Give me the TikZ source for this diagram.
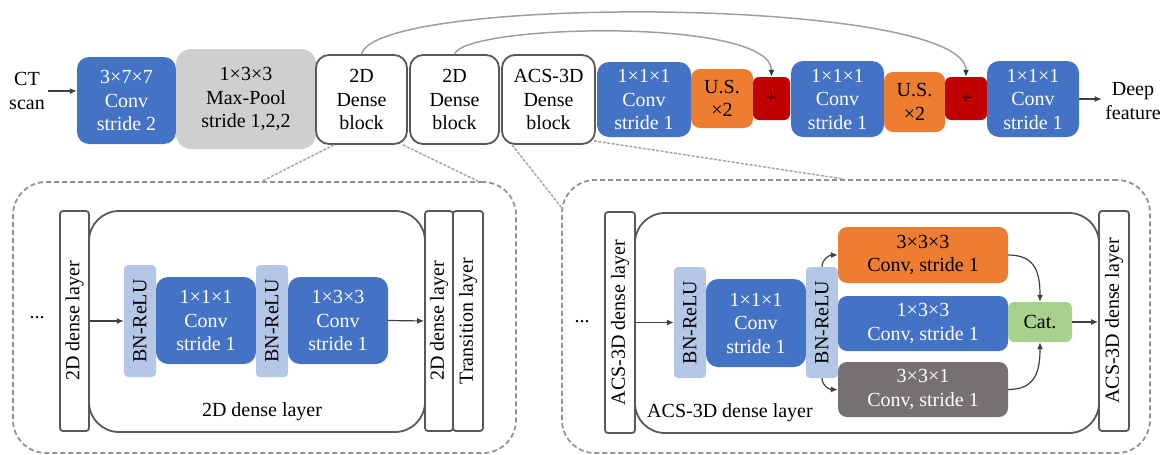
\documentclass[tikz,border=0pt]{standalone}
\usepackage{fontspec}
\setmainfont{Liberation Serif}
\usetikzlibrary{arrows.meta}

\definecolor{convblue}{HTML}{4472C4}
\definecolor{poolgray}{HTML}{D0CECE}
\definecolor{usorange}{HTML}{ED7D31}
\definecolor{addred}{HTML}{C00000}
\definecolor{bnblue}{HTML}{B4C7E7}
\definecolor{kgray}{HTML}{767171}
\definecolor{catgreen}{HTML}{A9D18E}
\definecolor{edgegray}{HTML}{595959}

\newcommand{\txt}{\fontsize{20}{23.5}\selectfont}

\tikzset{
  blk/.style 2 args={minimum width=#1pt,minimum height=#2pt,inner sep=0pt,align=center,font=\txt},
  conv/.style={fill=convblue,text=white,rounded corners=12pt},
  dblock/.style={draw=edgegray,line width=1.8pt,fill=white,rounded corners=13pt},
  us/.style={fill=usorange,rounded corners=9pt},
  add/.style={fill=addred,rounded corners=6pt},
  bn/.style={fill=bnblue,rounded corners=4pt},
  lay/.style={draw=edgegray,line width=1.8pt,fill=white,rounded corners=3pt},
  inbox/.style={draw=edgegray,line width=1.8pt,rounded corners=30pt},
  panel/.style={draw=gray!85,line width=1.8pt,dash pattern=on 5pt off 3pt,rounded corners=33pt},
  zoomln/.style={draw=gray!70,line width=1.5pt,dash pattern=on 3pt off 1.5pt},
  arr/.style={draw=black!75,line width=1.2pt,-{Latex[length=7pt,width=6pt]}},
  skip/.style={draw=gray!75,line width=1.5pt,-{Latex[length=7pt,width=6pt,color=black!80]}}
}

\begin{document}
\begin{tikzpicture}[x=1pt,y=-1pt]
  \useasboundingbox (0,0) rectangle (1167,455);

  % encoder / decoder row
  \node[align=center,font=\txt] (ct) at (27,91) {CT\\scan};
  \node[conv,blk={99}{87}] (conv0) at (126.5,100.5) {3×7×7\\Conv\\stride 2};
  \node[blk={140}{100},fill=poolgray,rounded corners=15pt] (pool) at (246,99) {1×3×3\\Max-Pool\\stride 1,2,2};
  \node[dblock,blk={91}{89}] (dbA) at (361.5,99.5) {2D\\Dense\\block};
  \node[dblock,blk={89}{89}] (dbB) at (454.5,99.5) {2D\\Dense\\block};
  \node[dblock,blk={93}{89}] (acs) at (548.5,99.5) {ACS-3D\\Dense\\block};
  \node[conv,blk={94}{75}] (c1) at (644,99.5) {1×1×1\\Conv\\stride 1};
  \node[us,blk={62}{59}] (us1) at (722,98.5) {U.S.\\×2};
  \node[add,blk={37}{43}] (add1) at (771.5,98.5) {+};
  \node[conv,blk={93}{76}] (c2) at (837.5,99) {1×1×1\\Conv\\stride 1};
  \node[us,blk={61}{60}] (us2) at (914.5,102) {U.S.\\×2};
  \node[add,blk={42}{43}] (add2) at (966,98.5) {+};
  \node[conv,blk={92}{76}] (c3) at (1033,99) {1×1×1\\Conv\\stride 1};
  \node[align=center,font=\txt] (deep) at (1133,101) {Deep\\feature};

  \draw[arr] (ct.east) -- (ct.east -| conv0.west);
  \draw[arr] (c3.east) -- (c3.east -| deep.west);
  \draw[skip] (dbA.north) .. controls +(15,-60) and +(0,-80) .. (add2.north);
  \draw[skip] (dbB.north) .. controls +(10,-30) and +(0,-60) .. (add1.north);

  % expanded blocks
  \node[panel,blk={503}{271}] (panelL) at (264.5,317.5) {};
  \node[panel,blk={588}{273}] (panelR) at (856,316.5) {};
  \draw[zoomln] ([xshift=19pt]dbA.south west) -- ([xshift=250pt]panelL.north west);
  \draw[zoomln] ([xshift=-5pt]dbA.south east) -- ([xshift=-39pt]panelL.north east);
  \draw[zoomln] ([xshift=11pt]acs.south west) -- ([yshift=-28pt]panelR.north west);
  \draw[zoomln] ([xshift=-2pt,yshift=4pt]acs.south east) -- ([xshift=283pt]panelR.north west);

  % 2D dense layer
  \node[font=\txt] (dotsL) at (37,318) {...};
  \node[inbox,blk={336}{221}] (Lbig) at (257,321.5) {};
  \node[lay,blk={29}{220}] (Llay1) at (74.5,321) {\rotatebox{90}{2D dense layer}};
  \node[bn,blk={32}{112}] (Lbn1) at (140,321) {\rotatebox{90}{BN-ReLU}};
  \node[conv,blk={100}{87}] (Lconv1) at (206,320.5) {1×1×1\\Conv\\stride 1};
  \node[bn,blk={32}{112}] (Lbn2) at (272,321) {\rotatebox{90}{BN-ReLU}};
  \node[conv,blk={100}{87}] (Lconv2) at (338,320.5) {1×3×3\\Conv\\stride 1};
  \node[lay,blk={28}{220}] (Llay2) at (439,321) {\rotatebox{90}{2D dense layer}};
  \node[lay,blk={30}{220}] (Ltr) at (468,321) {\rotatebox{90}{Transition layer}};
  \node[font=\txt] (Lcap) at (262,412) {2D dense layer};
  \draw[arr] (Llay1.east) -- (Lbn1.west);
  \draw[arr] (Lconv2.east) -- (Llay2.west);

  % ACS-3D dense layer
  \node[font=\txt] (dotsR) at (582,322) {...};
  \node[inbox,blk={464}{220}] (Rbig) at (867,323) {};
  \node[lay,blk={30}{221}] (Rlay1) at (620,322.5) {\rotatebox{90}{ACS-3D dense layer}};
  \node[bn,blk={32}{111}] (Rbn1) at (690,322.5) {\rotatebox{90}{BN-ReLU}};
  \node[conv,blk={100}{88}] (Rconv1) at (756,323) {1×1×1\\Conv\\stride 1};
  \node[bn,blk={32}{111}] (Rbn2) at (822,322.5) {\rotatebox{90}{BN-ReLU}};
  \node[us,blk={170}{56}] (Rk333) at (923,255) {3×3×3\\Conv, stride 1};
  \node[conv,blk={170}{55},rounded corners=9pt] (Rk133) at (923,323.5) {1×3×3\\Conv, stride 1};
  \node[blk={170}{55},fill=kgray,text=white,rounded corners=9pt] (Rk331) at (923,389.5) {3×3×1\\Conv, stride 1};
  \node[blk={64}{40},fill=catgreen,rounded corners=6pt] (cat) at (1040,322) {Cat.};
  \node[lay,blk={30}{220}] (Rlay2) at (1114,321) {\rotatebox{90}{ACS-3D dense layer}};
  \node[font=\txt] (Rcap) at (730,413) {ACS-3D dense layer};
  \draw[arr] (Rlay1.east) -- (Rbn1.west);
  \draw[arr] (cat.east) -- (cat.east -| Rlay2.west);
  \draw[arr] (Rbn2.north) .. controls +(0,-8) and +(-8,0) .. (Rk333.west);
  \draw[arr] (Rbn2.south) .. controls +(0,8) and +(-8,0) .. (Rk331.west);
  \draw[arr] (Rk333.east) .. controls +(28,0) and +(0,-28) .. (cat.north);
  \draw[arr] (Rk331.east) .. controls +(28,0) and +(0,28) .. (cat.south);
\end{tikzpicture}
\end{document}
